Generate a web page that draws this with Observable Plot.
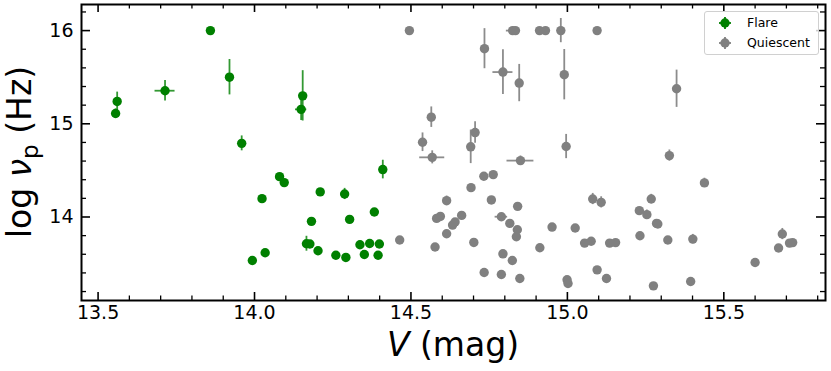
<!DOCTYPE html>
<html><head><meta charset="utf-8">
<script src="https://cdn.jsdelivr.net/npm/d3@7"></script>
<script src="https://cdn.jsdelivr.net/npm/@observablehq/plot@0.6"></script>
<style>
body{margin:0;background:#fff;font-family:"DejaVu Sans",sans-serif;}
#wrap{position:relative;width:831px;height:371px;}
#legend{position:absolute;left:704px;top:11px;width:113px;height:42px;border:1px solid #d0d0d0;border-radius:3px;background:rgba(255,255,255,0.8);font-size:12.5px;}
#legend div{position:absolute;left:0;height:20px;line-height:20px;}
#legend span{position:absolute;left:42px;white-space:nowrap;}
#legend svg{position:absolute;left:10px;top:1px;}
</style></head>
<body><div id="wrap"></div>
<script>
// Flare: V (mag), log nu_p, V error, log nu_p error
const flareV   = [13.556,13.561,13.714,13.859,13.920,13.959,14.154,14.149,14.080,14.095,14.024,14.210,14.288,14.182,14.304,14.166,14.177,14.203,14.260,14.292,13.993,14.034,14.410,14.383,14.337,14.368,14.399,14.351,14.395];
const flareNu  = [15.11,15.24,15.355,16.00,15.50,14.79,15.30,15.155,14.433,14.369,14.197,14.269,14.247,13.953,13.974,13.713,13.710,13.638,13.590,13.566,13.533,13.616,14.509,14.054,13.702,13.716,13.710,13.598,13.590];
const flareVerr  = [0,0,0.032,0,0,0,0,0.018,0,0,0,0,0,0,0,0,0,0,0,0,0,0,0,0,0,0,0,0,0];
const flareNuErr = [0.05,0.1,0.11,0,0.19,0.08,0.27,0.12,0,0,0,0,0.06,0,0,0.08,0,0,0,0,0,0,0.1,0,0.04,0,0,0,0];

// Quiescent
const quiV   = [14.495,14.735,14.825,14.834,14.911,14.930,14.979,14.794,14.846,14.990,14.565,14.537,14.568,14.691,14.705,14.996,14.850,15.095,15.349,15.326,15.438,15.081,15.108,15.268,15.230,15.254,15.285,15.289,15.232,15.321,15.401,15.055,15.076,15.135,15.154,15.095,15.125,15.275,15.394,15.600,15.687,15.675,15.710,15.720,14.464,14.577,14.582,14.594,14.614,14.614,14.633,14.641,14.662,14.692,14.733,14.763,14.757,14.701,14.789,14.816,14.840,14.837,14.841,14.794,14.824,14.734,14.789,14.848,14.912,14.951,15.025,14.999,15.002];
const quiNu  = [16.00,15.806,16.00,16.00,16.00,16.00,16.00,15.555,15.437,15.527,15.071,14.802,14.640,14.753,14.906,14.756,14.605,16.00,15.376,14.659,14.366,14.193,14.157,14.193,14.068,14.025,13.931,13.925,13.799,13.753,13.763,13.720,13.740,13.720,13.725,13.433,13.340,13.261,13.308,13.512,13.817,13.667,13.720,13.725,13.753,13.678,13.985,14.006,14.175,13.820,13.913,13.946,14.017,14.315,14.437,14.455,14.183,13.727,14.003,13.931,13.863,13.788,14.114,13.605,13.533,13.404,13.383,13.340,13.670,13.892,13.882,13.326,13.286];
const quiVerr  = [0,0,0.02,0,0,0,0,0.032,0,0,0,0,0.04,0,0,0,0.043,0,0,0,0,0,0,0,0,0,0,0,0,0,0,0,0,0,0,0,0,0,0,0,0,0,0,0,0,0,0,0,0,0,0,0,0,0,0,0,0,0,0.02,0,0,0,0,0,0,0,0,0,0,0,0,0,0];
const quiNuErr = [0,0.215,0,0,0,0,0.13,0.24,0.2,0.27,0.11,0.1,0.07,0.18,0.116,0.13,0.05,0,0.2,0.06,0.05,0.06,0.06,0.05,0.03,0.05,0,0,0,0,0.05,0,0,0,0,0,0,0,0,0,0.06,0,0,0,0,0,0,0,0.05,0,0,0,0,0,0,0,0,0,0,0,0,0,0,0,0,0,0,0,0,0,0,0,0];

const xTicks = [13.5,14.0,14.5,15.0,15.5];
const xMinor = d3.range(135,159).map(d => d/10);
const yTicks = [14,15,16];
const yMinor = d3.range(66,82,1).map(d => d/5);

const toRows = (V,N,dV,dN) => V.map((v,i)=>({V:v,nu:N[i],dV:dV[i],dN:dN[i]}));
const flare = toRows(flareV,flareNu,flareVerr,flareNuErr);
const quiet = toRows(quiV,quiNu,quiVerr,quiNuErr);

const W=831,H=371,mL=81,mR=6,mT=4,mB=71;
const fh = H-mT-mB, fw = W-mL-mR;
const green="#008000", gray="#808080";

function series(data,color,op){
  return [
    Plot.ruleX(data.filter(d=>d.dN>0),{x:"V",y1:d=>d.nu-d.dN,y2:d=>d.nu+d.dN,stroke:color,strokeWidth:1.8,strokeOpacity:op}),
    Plot.ruleY(data.filter(d=>d.dV>0),{y:"nu",x1:d=>d.V-d.dV,x2:d=>d.V+d.dV,stroke:color,strokeWidth:1.8,strokeOpacity:op}),
    Plot.dot(data,{x:"V",y:"nu",r:4.7,fill:color,stroke:null})
  ];
}

const chart = Plot.plot({
  width:W,height:H,marginLeft:mL,marginRight:mR,marginTop:mT,marginBottom:mB,
  style:{fontFamily:"DejaVu Sans",background:"#fff",color:"#000"},
  x:{domain:[13.447,15.825],axis:null},
  y:{domain:[13.104,16.28],axis:null},
  marks:[
    ...series(flare,green,0.8),
    ...series(quiet,gray,0.9),
    // inward ticks, bottom/top
    Plot.tickX(xTicks,{x:d=>d,insetTop:fh-8,stroke:"#000",strokeWidth:1.6}),
    Plot.tickX(xTicks,{x:d=>d,insetBottom:fh-8,stroke:"#000",strokeWidth:1.6}),
    Plot.tickX(xMinor.filter(d=>!xTicks.includes(d)),{x:d=>d,insetTop:fh-4.5,stroke:"#000",strokeWidth:1.3}),
    Plot.tickX(xMinor.filter(d=>!xTicks.includes(d)),{x:d=>d,insetBottom:fh-4.5,stroke:"#000",strokeWidth:1.3}),
    Plot.tickY(yTicks,{y:d=>d,insetRight:fw-9,stroke:"#000",strokeWidth:1.6}),
    Plot.tickY(yTicks,{y:d=>d,insetLeft:fw-9,stroke:"#000",strokeWidth:1.6}),
    Plot.tickY(yMinor.filter(d=>!yTicks.includes(d)),{y:d=>d,insetRight:fw-5,stroke:"#000",strokeWidth:1.3}),
    Plot.tickY(yMinor.filter(d=>!yTicks.includes(d)),{y:d=>d,insetLeft:fw-5,stroke:"#000",strokeWidth:1.3}),
    Plot.frame({stroke:"#000",strokeWidth:2}),
    Plot.text(xTicks,{x:d=>d,text:d=>d.toFixed(1),frameAnchor:"bottom",lineAnchor:"top",dy:5,fontSize:19,fill:"#000"}),
    Plot.text(yTicks,{y:d=>d,text:d=>String(d),frameAnchor:"left",textAnchor:"end",dx:-8,fontSize:19,fill:"#000"})
  ]
});
document.getElementById("wrap").appendChild(chart);

const svg = d3.select(chart);
const yl = svg.append("text").attr("transform",`translate(31,${(mT+H-mB)/2}) rotate(-90)`)
  .attr("text-anchor","middle").attr("font-size",33).attr("font-family","DejaVu Sans").attr("fill","#000");
yl.append("tspan").text("log ");
yl.append("tspan").attr("font-style","italic").text("ν");
yl.append("tspan").attr("font-size",23).attr("dy",7).text("p");
yl.append("tspan").attr("dy",-7).text(" (Hz)");
const xl = svg.append("text").attr("x",(mL+W-mR)/2).attr("y",356)
  .attr("text-anchor","middle").attr("font-size",33).attr("font-family","DejaVu Sans").attr("fill","#000");
xl.append("tspan").attr("font-style","italic").text("V");
xl.append("tspan").text(" (mag)");

// legend
const lg = document.createElement("div");
lg.id="legend";
const entries=[["Flare",green],["Quiescent",gray]];
lg.innerHTML = entries.map(([t,c],i)=>`<div style="top:${1+i*20}px;width:100%"><svg width="20" height="18"><line x1="10" y1="3" x2="10" y2="15" stroke="${c}" stroke-width="1.8"/><line x1="4" y1="9" x2="16" y2="9" stroke="${c}" stroke-width="1.8"/><circle cx="10" cy="9" r="4.7" fill="${c}"/></svg><span>${t}</span></div>`).join("");
document.getElementById("wrap").appendChild(lg);
</script></body></html>
